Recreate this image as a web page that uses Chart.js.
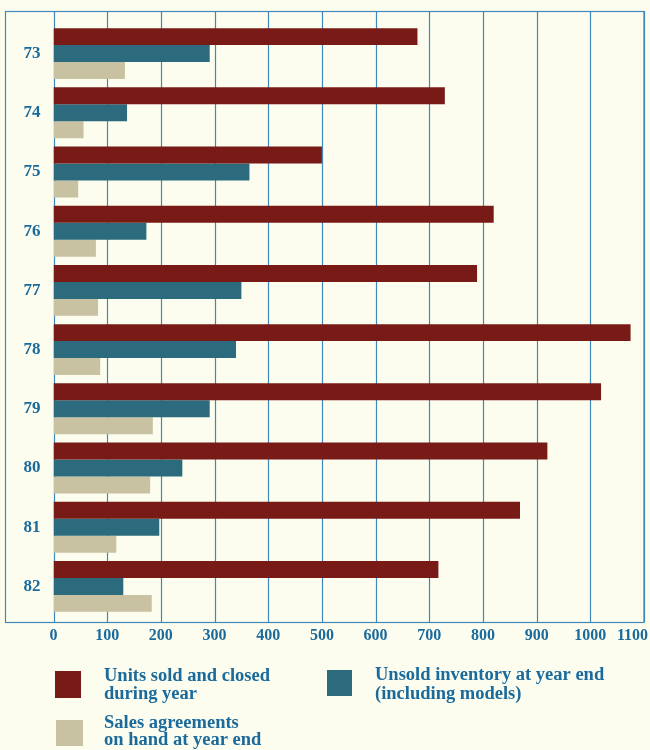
<!DOCTYPE html>
<html>
<head>
<meta charset="utf-8">
<title>Home sales 1973-1982</title>
<script src="https://cdn.jsdelivr.net/npm/chart.js@4/dist/chart.umd.min.js"></script>
<style>
  html, body { margin: 0; padding: 0; background: #fdfdef; }
  #wrap { width: 650px; height: 750px; position: relative; }
</style>
</head>
<body>
<div id="wrap"><canvas id="sales-chart"></canvas></div>
<script>
const years = ['73', '74', '75', '76', '77', '78', '79', '80', '81', '82'];
const unitsSold = [678, 729, 500, 820, 789, 1075, 1020, 920, 869, 717];
const unsoldInventory = [291, 137, 365, 173, 350, 340, 291, 240, 197, 130];
const salesAgreements = [133, 56, 46, 79, 83, 87, 185, 180, 117, 183];
const xTicks = [0, 100, 200, 300, 400, 500, 600, 700, 800, 900, 1000, 1100];
const seriesNames = [
  ['Units sold and closed', 'during year'],
  ['Unsold inventory at year end', '(including models)'],
  ['Sales agreements', 'on hand at year end']
];
const seriesColors = ['#781b17', '#2b6b7d', '#c8c1a2'];

const inkBlue = '#1a6a9c';
const ruleBlue = '#3f88bb';
const serif = '"Liberation Serif", "DejaVu Serif", serif';

// frame, vertical rules and the value labels under the plot
const frameGrid = {
  id: 'frameGrid',
  beforeDatasetsDraw(chart) {
    const { ctx, chartArea: a, scales: { x } } = chart;
    const top = a.top - 13;
    const bottom = a.bottom + 6;
    ctx.save();
    ctx.strokeStyle = ruleBlue;
    ctx.lineWidth = 1.2;
    xTicks.forEach(v => {
      const px = Math.round(x.getPixelForValue(v)) + 0.5;
      ctx.beginPath();
      ctx.moveTo(px, top);
      ctx.lineTo(px, bottom);
      ctx.stroke();
    });
    ctx.strokeRect(5.5, top + 0.5, Math.round(a.right) - 5.5, bottom - top);

    ctx.fillStyle = inkBlue;
    ctx.font = 'bold 16px ' + serif;
    ctx.textAlign = 'center';
    ctx.textBaseline = 'alphabetic';
    xTicks.forEach(v => {
      const txt = String(v);
      const w = ctx.measureText(txt).width;
      const px = Math.min(x.getPixelForValue(v), chart.width - 2 - w / 2);
      ctx.fillText(txt, px, bottom + 18);
    });
    ctx.restore();
  }
};

// two-column key below the chart
const keyBoxes = [
  { x: 55, y: 671, w: 26, h: 27, tx: 104, base: 681, lh: 18 },
  { x: 327, y: 670, w: 25, h: 26, tx: 375, base: 680, lh: 19 },
  { x: 56, y: 720, w: 27, h: 26, tx: 104, base: 728, lh: 16.5 }
];
const keyPlugin = {
  id: 'keyPlugin',
  afterDraw(chart) {
    const { ctx } = chart;
    ctx.save();
    ctx.font = 'bold 18.5px ' + serif;
    ctx.textAlign = 'left';
    ctx.textBaseline = 'alphabetic';
    chart.data.datasets.forEach((ds, i) => {
      const k = keyBoxes[i];
      ctx.fillStyle = ds.backgroundColor;
      ctx.fillRect(k.x, k.y, k.w, k.h);
      ctx.fillStyle = inkBlue;
      seriesNames[i].forEach((line, j) => {
        ctx.fillText(line, k.tx, k.base + j * k.lh);
      });
    });
    ctx.restore();
  }
};

const ctx = document.getElementById('sales-chart');

new Chart(ctx, {
  type: 'bar',
  data: {
    labels: years,
    datasets: [{
      label: seriesNames[0].join(' '),
      data: unitsSold,
      backgroundColor: seriesColors[0]
    }, {
      label: seriesNames[1].join(' '),
      data: unsoldInventory,
      backgroundColor: seriesColors[1]
    }, {
      label: seriesNames[2].join(' '),
      data: salesAgreements,
      backgroundColor: seriesColors[2]
    }]
  },
  plugins: [frameGrid, keyPlugin],
  options: {
    indexAxis: 'y',
    responsive: true,
    maintainAspectRatio: false,
    animation: false,
    datasets: {
      bar: {
        barPercentage: 1.0,
        categoryPercentage: 0.86,
        borderWidth: 0
      }
    },
    layout: {
      padding: {
        top: 24,
        bottom: 134,
        left: 6,
        right: 6
      }
    },
    plugins: {
      legend: { display: false },
      tooltip: { enabled: false }
    },
    scales: {
      x: {
        type: 'linear',
        display: false,
        min: 0,
        max: 1100
      },
      y: {
        grid: { display: false, drawTicks: false },
        border: { display: false },
        ticks: {
          color: inkBlue,
          padding: 13,
          font: { family: serif, size: 17, weight: 'bold' }
        },
        afterFit(scale) {
          scale.width = 47.5;
        }
      }
    }
  }
});
</script>
</body>
</html>
